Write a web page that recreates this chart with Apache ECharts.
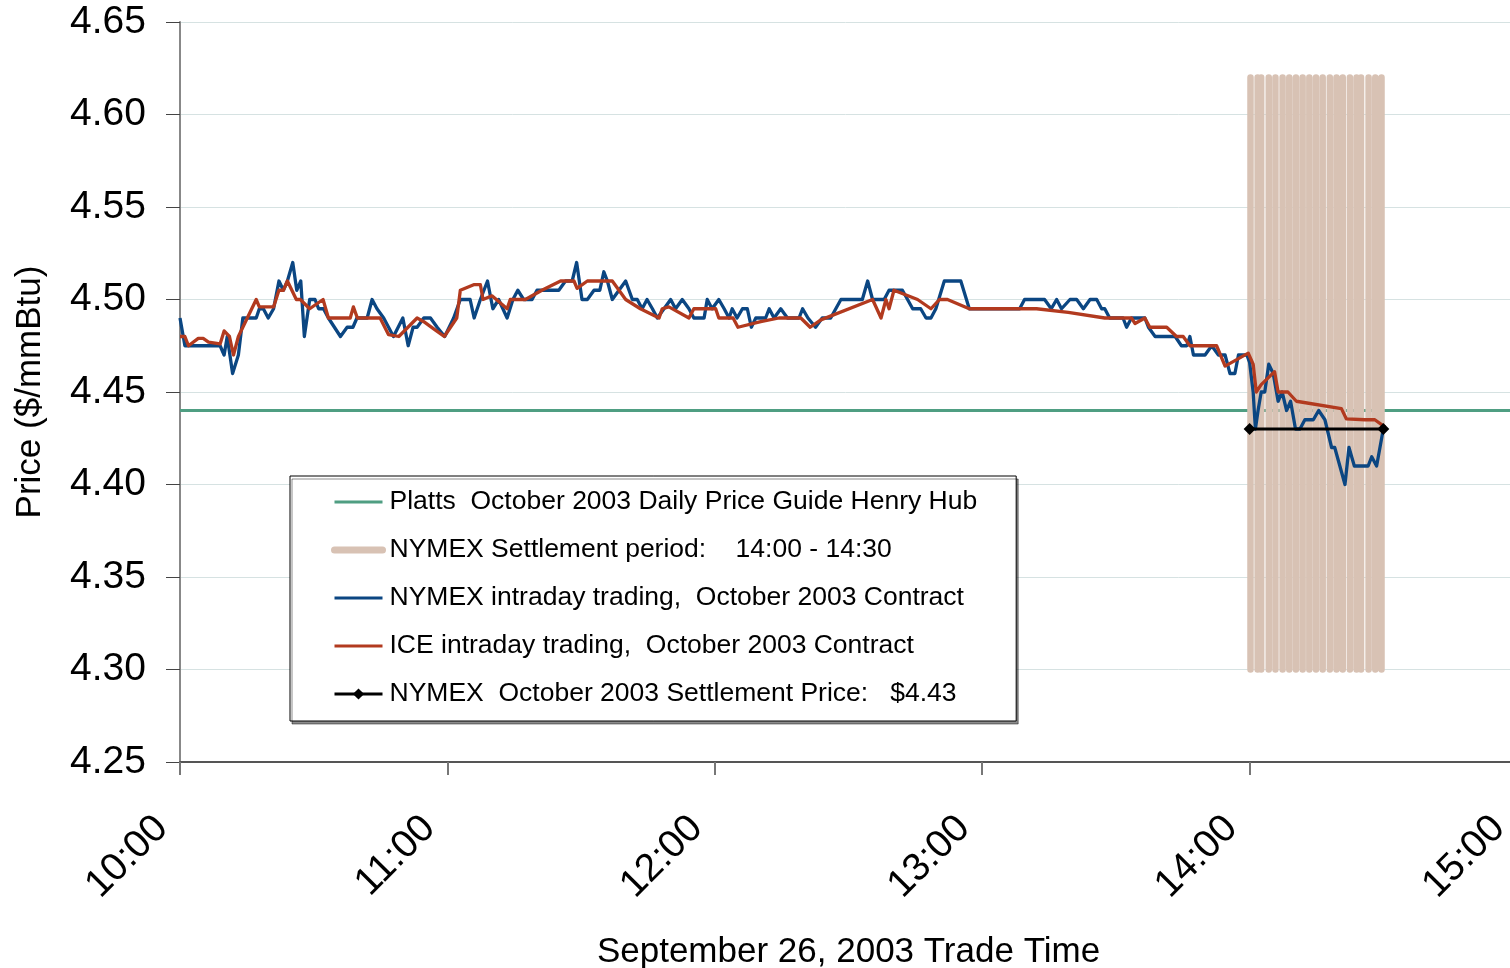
<!DOCTYPE html>
<html>
<head>
<meta charset="utf-8">
<script src="https://cdn.jsdelivr.net/npm/echarts@6/dist/echarts.min.js"></script>
<style>html,body{margin:0;padding:0;background:#fff;}#c{width:1510px;height:968px;}</style>
</head>
<body>
<div id="c"></div>
<script>
// Minutes after 10:00
const xTickLabels = ['10:00','11:00','12:00','13:00','14:00','15:00'];
const yTicks = [4.25,4.30,4.35,4.40,4.45,4.50,4.55,4.60,4.65];

const plattsPrice = 4.44;
const plattsTimes = [0, 300];

const settleTimes = [240, 270];
const settlePrice = 4.43;

const bandLow = 4.30, bandHigh = 4.62;
const bandTimes = [240.2,241.8,242.6,244.3,245.8,247.4,248.9,250.4,251.9,253.4,254.9,256.4,258.0,259.5,260.9,262.5,264.0,265.0,266.7,268.2,269.6];

const nymexTimes = [0,1.1,9.0,9.9,10.6,11.8,13.1,14.1,17.1,17.8,18.7,19.8,21.0,22.2,23.2,24.1,25.3,26.2,27.1,27.9,29.1,30.3,31.1,32.2,33.3,36.0,37.5,38.8,39.7,42.0,43.1,44.2,45.7,46.8,47.9,50.0,51.2,52.3,53.2,54.7,56.2,57.7,59.4,61.4,62.9,65.1,66.0,67.4,69.0,70.2,71.5,73.4,74.7,75.8,77.1,79.0,80.1,85.0,86.5,88.0,89.0,90.2,91.4,92.9,94.2,95.1,95.9,97.0,98.5,100.0,101.5,102.6,103.7,104.8,106.0,107.1,108.6,110.1,111.2,112.7,114.2,115.3,117.6,118.3,119.4,120.9,122.1,123.2,123.9,125.0,126.2,127.3,128.2,129.2,131.4,132.2,133.3,134.8,136.3,138.9,139.7,140.9,142.6,144.1,146.0,148.3,153.1,154.3,155.4,158.0,159.1,162.1,164.4,166.2,167.4,168.5,169.6,171.5,175.2,177.1,188.4,189.5,194.0,195.5,196.7,197.8,199.7,201.2,202.7,204.2,205.7,206.8,207.5,208.6,211.6,212.4,213.5,216.5,217.3,218.8,223.3,224.7,225.9,226.6,227.4,230.0,231.5,233.0,234.5,235.6,236.7,237.5,239.4,240.0,240.8,241.3,241.9,242.6,243.4,244.3,245.3,246.4,247.3,248.3,249.2,250.3,251.3,252.4,254.3,255.5,256.9,258.4,259.1,261.4,262.3,263.5,266.6,267.4,268.5,270.0];
const nymexPrices = [4.49,4.475,4.475,4.47,4.48,4.46,4.47,4.49,4.49,4.495,4.495,4.49,4.495,4.51,4.505,4.51,4.52,4.505,4.51,4.48,4.50,4.50,4.495,4.495,4.49,4.48,4.485,4.485,4.49,4.49,4.50,4.495,4.49,4.485,4.48,4.49,4.475,4.485,4.485,4.49,4.49,4.485,4.48,4.49,4.50,4.50,4.49,4.50,4.51,4.495,4.50,4.49,4.50,4.505,4.50,4.50,4.505,4.505,4.51,4.51,4.52,4.50,4.50,4.505,4.505,4.515,4.51,4.50,4.505,4.51,4.50,4.50,4.495,4.50,4.495,4.49,4.495,4.50,4.495,4.50,4.495,4.49,4.49,4.50,4.495,4.50,4.495,4.49,4.495,4.49,4.495,4.495,4.485,4.49,4.49,4.495,4.49,4.495,4.49,4.49,4.495,4.49,4.485,4.49,4.49,4.50,4.50,4.51,4.50,4.50,4.505,4.505,4.495,4.495,4.49,4.49,4.495,4.51,4.51,4.495,4.495,4.50,4.50,4.495,4.50,4.495,4.50,4.50,4.495,4.50,4.50,4.495,4.495,4.49,4.49,4.485,4.49,4.49,4.485,4.48,4.48,4.475,4.475,4.48,4.47,4.47,4.475,4.47,4.47,4.46,4.46,4.47,4.47,4.466,4.45,4.43,4.44,4.45,4.45,4.465,4.46,4.445,4.45,4.44,4.445,4.43,4.43,4.435,4.435,4.44,4.435,4.42,4.42,4.40,4.42,4.41,4.41,4.415,4.41,4.43];

const iceTimes = [0,1.1,1.9,4.1,5.2,6.4,9.0,9.9,11.1,12.0,13.1,17.1,17.8,21.0,22.2,23.2,24.1,26.1,27.0,29.1,32.1,33.3,38.2,38.9,39.8,44.9,46.8,49.1,53.2,54.7,57.0,59.3,62.1,62.9,65.9,67.4,68.0,70.0,73.4,74.1,77.5,79.0,81.2,85.4,88.4,89.1,91.4,97.0,100.0,103.3,107.5,108.2,109.7,114.2,115.3,120.2,120.9,124.1,125.2,130.3,134.4,139.3,141.4,143.8,155.4,157.3,158.4,159.1,160.2,165.5,168.5,170.4,172.2,177.1,192.2,199.3,207.5,213.5,214.3,216.5,217.6,221.4,223.6,225.1,226.6,232.6,234.5,239.7,240.8,241.5,242.6,245.6,246.4,248.6,250.5,260.6,261.7,265.9,268.1,270.4];
const icePrices = [4.48,4.48,4.475,4.479,4.479,4.477,4.476,4.483,4.48,4.47,4.48,4.50,4.496,4.496,4.505,4.505,4.51,4.50,4.50,4.495,4.50,4.49,4.49,4.496,4.49,4.49,4.481,4.48,4.49,4.488,4.484,4.48,4.49,4.505,4.508,4.508,4.50,4.502,4.495,4.50,4.50,4.502,4.505,4.51,4.51,4.506,4.51,4.51,4.50,4.495,4.49,4.495,4.496,4.49,4.495,4.495,4.49,4.49,4.485,4.488,4.49,4.49,4.485,4.489,4.50,4.49,4.50,4.495,4.505,4.50,4.495,4.50,4.50,4.495,4.495,4.493,4.49,4.49,4.487,4.49,4.485,4.485,4.48,4.48,4.475,4.475,4.464,4.471,4.465,4.45,4.454,4.461,4.45,4.45,4.445,4.441,4.4355,4.435,4.435,4.431];

const FONT = '"Liberation Sans", Arial, sans-serif';
const zip = (a, b) => a.map((t, i) => [t, b[i]]);

const bandData = [];
bandTimes.forEach(t => { bandData.push([t, bandLow], [t, bandHigh], [t, '-']); });

const names = [
  'Platts  October 2003 Daily Price Guide Henry Hub',
  'NYMEX Settlement period:    14:00 - 14:30',
  'NYMEX intraday trading,  October 2003 Contract',
  'ICE intraday trading,  October 2003 Contract',
  'NYMEX  October 2003 Settlement Price:   $4.43'
];
const colors = ['#4f9e82', '#d8c2b4', '#0b4682', '#b23a1f', '#000000'];
const hideSym = {opacity: 0};

const chart = echarts.init(document.getElementById('c'), null, {renderer: 'canvas'});
chart.setOption({
  animation: false,
  backgroundColor: '#ffffff',
  grid: {left: 180, top: 22, width: 1337, height: 740, containLabel: false, outerBoundsMode: 'none'},
  legend: {
    orient: 'vertical', left: 290, top: 476,
    padding: [11, 39, 12, 41],
    itemWidth: 48, itemHeight: 14, itemGap: 18,
    backgroundColor: '#ffffff',
    borderColor: '#000000', borderWidth: 1,
    shadowColor: 'rgba(0,0,0,0.45)', shadowOffsetX: 2, shadowOffsetY: 3, shadowBlur: 0,
    selectedMode: false,
    textStyle: {fontFamily: FONT, fontSize: 26.5, color: '#000', lineHeight: 30, padding: [0,0,0,2]},
    data: [
      {name: names[0], lineStyle: {width: 3}, itemStyle: hideSym},
      {name: names[1], lineStyle: {width: 7}, itemStyle: hideSym},
      {name: names[2], lineStyle: {width: 3}, itemStyle: hideSym},
      {name: names[3], lineStyle: {width: 3}, itemStyle: hideSym},
      {name: names[4], lineStyle: {width: 3}}
    ]
  },
  xAxis: {
    type: 'value', min: 0, max: 300, interval: 60,
    name: 'September 26, 2003 Trade Time', nameLocation: 'middle', nameGap: 173,
    nameTextStyle: {fontFamily: FONT, fontSize: 35, color: '#000'},
    axisLine: {lineStyle: {color: '#555', width: 2}},
    axisTick: {show: true, length: 13, lineStyle: {color: '#777', width: 2}},
    axisLabel: {rotate: 45, margin: 42, padding: [0, 26, 0, 0], fontFamily: FONT, fontSize: 39, color: '#000',
      formatter: v => xTickLabels[Math.round(v / 60)]},
    splitLine: {show: false}
  },
  yAxis: {
    type: 'value', min: 4.25, max: 4.65, interval: 0.05,
    name: 'Price ($/mmBtu)', nameLocation: 'middle', nameGap: 132, nameRotate: 90,
    nameTextStyle: {fontFamily: FONT, fontSize: 35, color: '#000'},
    axisLine: {show: true, lineStyle: {color: '#888', width: 2}},
    axisTick: {show: true, length: 14, lineStyle: {color: '#444', width: 1}},
    axisLabel: {margin: 34, fontFamily: FONT, fontSize: 39, color: '#000',
      formatter: v => { const f = yTicks.find(t => Math.abs(t - v) < 1e-6); return (f !== undefined ? f : v).toFixed(2); }},
    splitLine: {show: true, lineStyle: {color: '#d6e2e2', width: 1}}
  },
  series: [
    {name: names[0], type: 'line', symbol: 'none', z: 1,
      data: plattsTimes.map(t => [t, plattsPrice]),
      lineStyle: {color: colors[0], width: 3}, itemStyle: {color: colors[0]}},
    {name: names[1], type: 'line', symbol: 'none', z: 2, connectNulls: false,
      data: bandData,
      lineStyle: {color: colors[1], width: 6.5, cap: 'round'}, itemStyle: {color: colors[1]}},
    {name: names[2], type: 'line', symbol: 'none', z: 3,
      data: zip(nymexTimes, nymexPrices),
      lineStyle: {color: colors[2], width: 3.3, join: 'round'}, itemStyle: {color: colors[2]}},
    {name: names[3], type: 'line', symbol: 'none', z: 4,
      data: zip(iceTimes, icePrices),
      lineStyle: {color: colors[3], width: 3.3, join: 'round'}, itemStyle: {color: colors[3]}},
    {name: names[4], type: 'line', symbol: 'diamond', symbolSize: 12, z: 5,
      data: settleTimes.map(t => [t, settlePrice]),
      lineStyle: {color: colors[4], width: 3}, itemStyle: {color: colors[4]}}
  ]
});
</script>
</body>
</html>
